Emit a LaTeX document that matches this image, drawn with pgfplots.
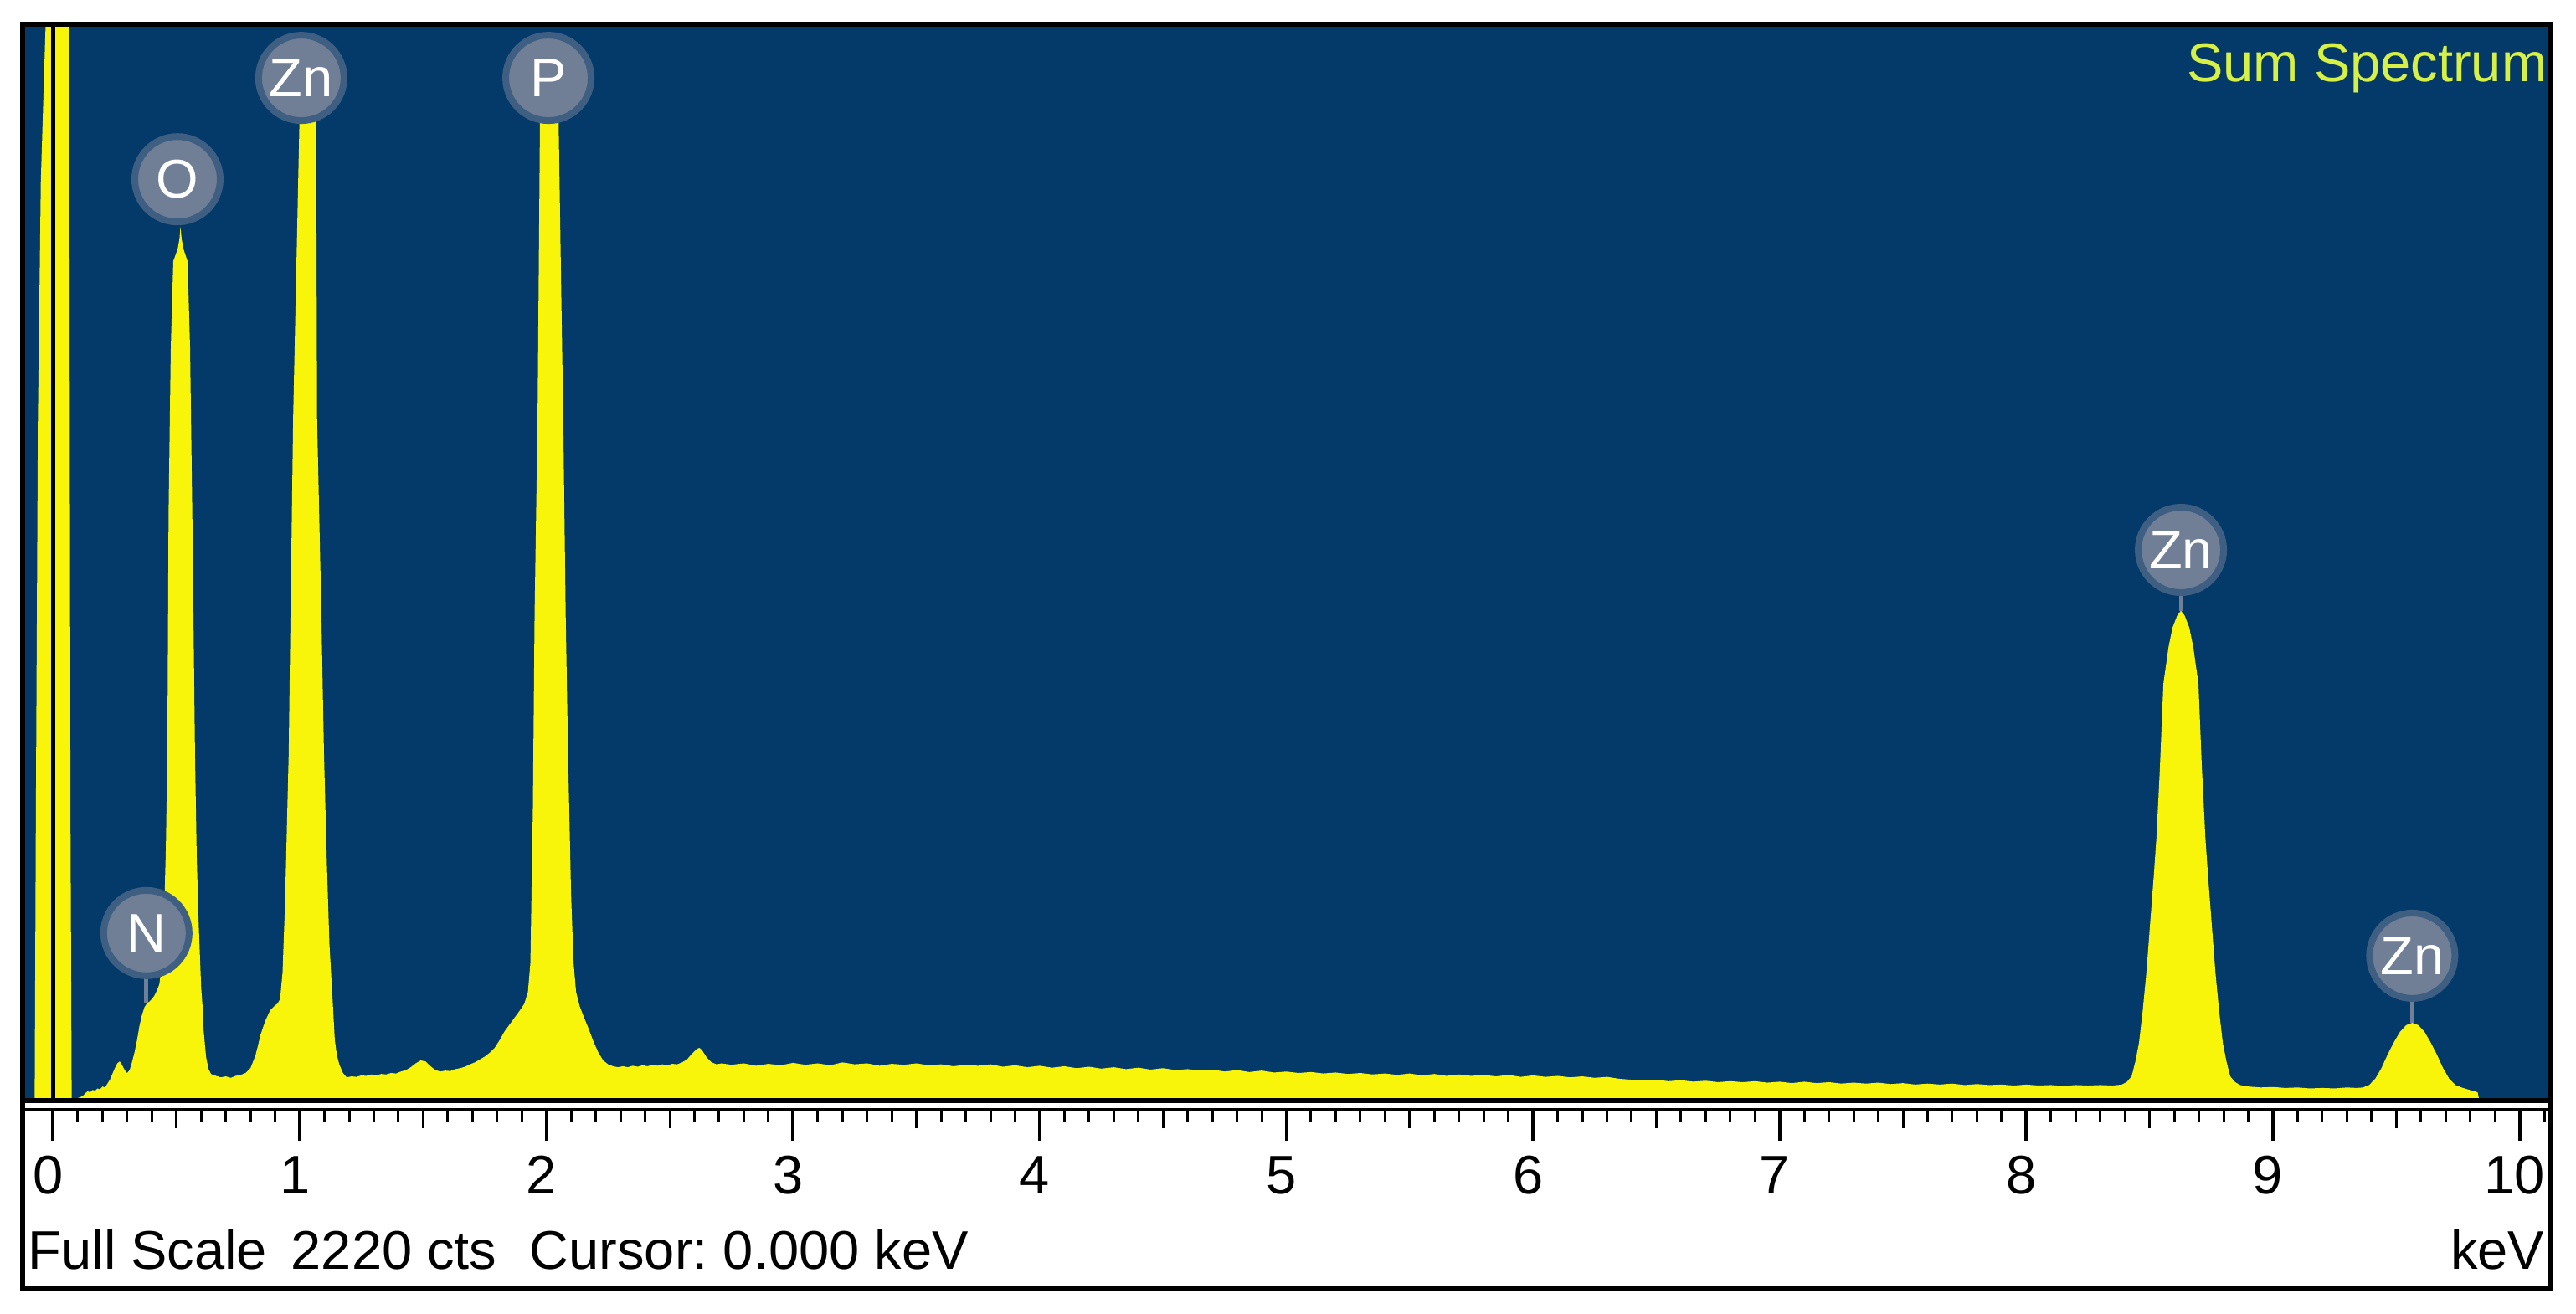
\documentclass[border=0pt]{standalone}
\usepackage{fontspec}
\setmainfont{Liberation Sans}
\usepackage{pgfplots}
\usepackage{pgfplotstable}
\pgfplotsset{compat=1.18}
\definecolor{specblue}{RGB}{4,58,106}
\definecolor{specyellow}{RGB}{248,245,10}
\definecolor{lblgray}{RGB}{112,126,150}
\definecolor{sumtext}{RGB}{215,240,70}
\newcommand{\bigfont}{\fontsize{18.5pt}{22pt}\selectfont}

\pgfplotstableread{
x y
-0.12 0
-0.08 0
-0.075 0
-0.07 600
-0.062 1400
-0.05 1900
-0.035 2150
-0.02 2400
0.0 3000
0.06 3000
0.066 1800
0.07 600
0.075 0
0.10 0
0.12 4
0.13 10
0.14 14
0.15 12
0.16 17
0.17 15
0.18 20
0.19 18
0.20 24
0.21 22
0.22 30
0.23 38
0.24 50
0.25 62
0.26 72
0.27 76
0.28 68
0.29 58
0.30 52
0.31 58
0.32 75
0.33 95
0.34 120
0.35 150
0.36 172
0.37 188
0.38 196
0.39 200
0.40 205
0.41 212
0.42 222
0.43 235
0.44 270
0.45 380
0.457 520
0.463 714
0.468 1214
0.477 1556
0.487 1734
0.505 1760
0.512 1780
0.516 1805
0.521 1780
0.528 1760
0.545 1734
0.555 1556
0.564 1214
0.575 714
0.582 500
0.59 360
0.60 230
0.605 194
0.61 140
0.62 85
0.63 60
0.64 50
0.66 46
0.68 43
0.70 45
0.72 42
0.74 46
0.76 48
0.78 52
0.80 62
0.82 88
0.83 108
0.84 130
0.86 160
0.88 182
0.90 192
0.91 196
0.92 205
0.93 260
0.94 400
0.955 714
0.964 1062
0.973 1408
0.999 2033
1.015 2120
1.033 2150
1.05 2120
1.066 2033
1.07 1408
1.085 1062
1.098 714
1.11 480
1.12 320
1.134 194
1.142 120
1.15 90
1.16 70
1.175 52
1.19 43
1.21 45
1.23 44
1.25 47
1.27 46
1.29 49
1.31 47
1.33 50
1.35 49
1.37 52
1.39 51
1.41 55
1.43 58
1.45 64
1.47 72
1.49 78
1.51 76
1.53 66
1.55 58
1.57 55
1.59 57
1.61 56
1.63 60
1.65 62
1.67 65
1.69 70
1.71 74
1.73 80
1.75 86
1.77 94
1.79 104
1.81 120
1.83 138
1.85 152
1.87 166
1.89 180
1.91 195
1.925 220
1.935 280
1.945 600
1.952 1002
1.964 1408
1.974 2033
1.993 2120
2.012 2150
2.031 2120
2.049 2033
2.068 1408
2.078 1002
2.088 700
2.10 420
2.11 280
2.12 220
2.135 190
2.15 170
2.17 145
2.19 118
2.21 95
2.23 78
2.25 70
2.27 66
2.29 64
2.31 66
2.33 64
2.35 67
2.37 65
2.39 68
2.41 66
2.43 69
2.45 67
2.47 70
2.49 68
2.51 71
2.53 70
2.55 74
2.57 80
2.59 92
2.61 102
2.62 104
2.63 100
2.65 84
2.67 74
2.69 70
2.71 72
2.75 69
2.80 72
2.85 67
2.90 71
2.95 68
3.00 73
3.05 69
3.10 72
3.15 68
3.20 74
3.25 70
3.30 72
3.35 67
3.40 71
3.45 69
3.50 72
3.55 68
3.60 70
3.65 66
3.70 69
3.75 67
3.80 70
3.85 65
3.90 68
3.95 64
4.00 67
4.05 63
4.10 66
4.15 62
4.20 65
4.25 61
4.30 64
4.35 60
4.40 63
4.45 59
4.50 62
4.55 58
4.60 60
4.65 57
4.70 59
4.75 55
4.80 58
4.85 54
4.90 57
4.95 53
5.00 55
5.05 52
5.10 54
5.15 51
5.20 53
5.25 50
5.30 52
5.35 49
5.40 51
5.45 48
5.50 51
5.55 47
5.60 50
5.65 46
5.70 49
5.75 46
5.80 48
5.85 45
5.90 48
5.95 44
6.00 47
6.05 44
6.10 46
6.15 43
6.20 45
6.25 42
6.30 44
6.35 40
6.40 38
6.45 36
6.50 38
6.55 35
6.60 37
6.65 34
6.70 36
6.75 33
6.80 35
6.85 33
6.90 35
6.95 32
7.00 34
7.05 31
7.10 34
7.15 31
7.20 33
7.25 30
7.30 32
7.35 30
7.40 32
7.45 29
7.50 31
7.55 28
7.60 30
7.65 28
7.70 30
7.75 27
7.80 29
7.85 27
7.90 28
7.95 26
8.00 28
8.05 26
8.10 27
8.15 25
8.20 27
8.25 26
8.30 27
8.35 26
8.387 28
8.407 33
8.427 45
8.442 75
8.457 114
8.472 180
8.487 260
8.502 360
8.517 460
8.528 541
8.542 685
8.556 859
8.577 935
8.593 975
8.612 1000
8.627 1010
8.642 1000
8.661 975
8.677 935
8.698 859
8.712 685
8.726 541
8.737 460
8.752 360
8.767 260
8.782 180
8.797 114
8.812 75
8.827 45
8.847 33
8.867 27
8.90 24
8.95 22
9.00 23
9.05 21
9.10 22
9.15 20
9.20 21
9.25 20
9.30 22
9.34 21
9.365 22
9.39 27
9.415 40
9.44 62
9.465 90
9.49 115
9.515 137
9.54 151
9.565 156
9.59 151
9.615 137
9.64 115
9.665 90
9.69 62
9.715 40
9.74 27
9.765 22
9.79 18
9.81 15
9.83 12
9.835 0
10.2 0
}\spectrum

\begin{document}
\frenchspacing
\begin{tikzpicture}
\fill[white] (0,0) rectangle (307.7mm,156.9mm);
\useasboundingbox (0,0) rectangle (307.7mm,156.9mm);

% main spectrum panel
\begin{axis}[
  at={(3.0mm,25.7mm)}, anchor=south west,
  scale only axis, width=301.4mm, height=128.0mm,
  xmin=-0.1137, xmax=10.117, ymin=0, ymax=2220,
  axis background/.style={fill=specblue},
  axis line style={draw=none},
  ticks=none,
  clip=true,
]
\addplot[fill=specyellow, draw=none] table[x=x,y=y]{\spectrum} \closedcycle;
% cursor at 0 keV
\draw[black, line width=0.45mm] (axis cs:0,0) -- (axis cs:0,2220);
% pointers
\draw[lblgray, line width=0.5mm] (axis cs:0.378,260) -- (axis cs:0.378,196);
\draw[lblgray, line width=0.4mm] (axis cs:9.565,215) -- (axis cs:9.565,156);
\draw[lblgray, line width=0.4mm] (axis cs:8.627,1050) -- (axis cs:8.627,1010);
% element labels
\tikzset{lbl/.style={circle, fill=lblgray, draw=lblgray!55!specblue, line width=0.8mm, text=white, minimum size=10.2mm, inner sep=0pt, font=\bigfont}}
\node[lbl] at (axis cs:0.504,1904) {O};
\node[lbl] at (axis cs:1.006,2114) {Zn};
\node[lbl] at (axis cs:2.008,2114) {P};
\node[lbl] at (axis cs:0.378,342) {N};
\node[lbl] at (axis cs:8.627,1136) {Zn};
\node[lbl] at (axis cs:9.565,295) {Zn};
\end{axis}

% ruler
\begin{axis}[
  at={(3.0mm,24.4mm)}, anchor=south west,
  scale only axis, width=301.4mm, height=0.5mm,
  xmin=-0.1137, xmax=10.117, ymin=0, ymax=1,
  axis y line=none,
  axis x line*=bottom,
  x axis line style={line width=0.3mm, black},
  xtick={0,1,2,3,4,5,6,7,8,9,10},
  xticklabels={0,1,2,3,4,5,6,7,8,9,10},
  minor xtick={0,0.1,...,10.15},
  tick align=outside,
  major tick length=3.8mm, minor tick length=1.5mm,
  major tick style={line width=0.4mm, black},
  minor tick style={line width=0.3mm, black},
  extra x ticks={0.5,1.5,2.5,3.5,4.5,5.5,6.5,7.5,8.5,9.5},
  extra x tick labels={},
  extra x tick style={major tick length=2.3mm, major tick style={line width=0.3mm, black}},
  xticklabel style={font=\bigfont, anchor=base, inner sep=0pt, yshift=-6.3mm, xshift=-0.6mm},
]
\addplot[draw=none] coordinates {(0,0) (10,1)};
\end{axis}

% frame and separators
\draw[black, line width=0.6mm] (3.0mm,25.4mm) -- (304.4mm,25.4mm);
\draw[black, line width=0.6mm] (2.7mm,3.0mm) rectangle (304.7mm,153.95mm);

% texts
\node[anchor=base east, text=sumtext, font=\bigfont, inner sep=0pt] at (304.3mm,147.1mm) {Sum Spectrum};
\node[anchor=base west, font=\bigfont, inner sep=0pt] at (3.3mm,5.3mm) {Full Scale};
\node[anchor=base west, font=\bigfont, inner sep=0pt] at (34.7mm,5.3mm) {2220 cts};
\node[anchor=base west, font=\bigfont, inner sep=0pt] at (63.2mm,5.3mm) {Cursor: 0.000 keV};
\node[anchor=base east, font=\bigfont, inner sep=0pt] at (304.0mm,5.3mm) {keV};
\end{tikzpicture}
\end{document}
